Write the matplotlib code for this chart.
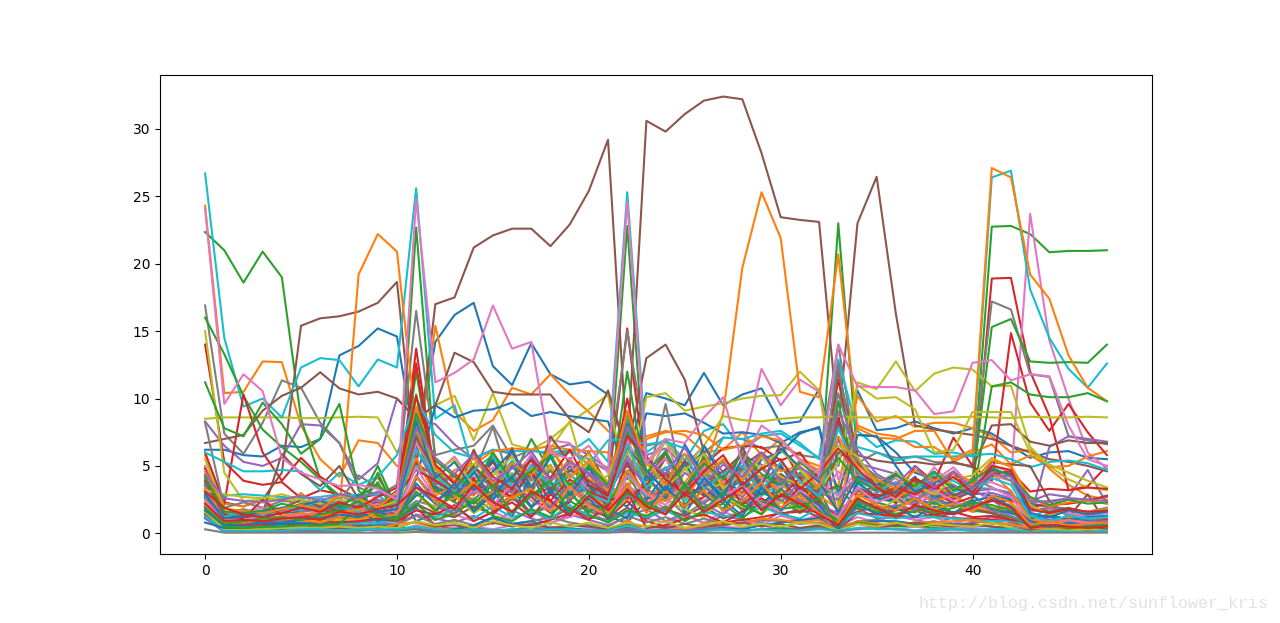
#!/usr/bin/python3
import numpy as np
import matplotlib
matplotlib.use('Agg')
import matplotlib.pyplot as plt

# values, x = 0..47, one list per line colour
blue = [
    [6.2,6.2,5.8,5.7,6.5,6.4,7,13.2,13.9,15.2,14.6, 6,14.2,16.2,17.1,12.4,11,14.1,11.8,11.05,11.25,10.3, 6,10.4,10,9.5,11.9,9.5,10.3,10.75,8.1,8.3,10.7, 5,10.6,7.65,7.8,8.3,7.8,7.4,7.8,7.4,6.5,5.6,6,6.1,5.6,5.5],
    [3.5,1.5,1.2,1.3,1.5,1.6,1.8,2.2,2,2.5,1.5, 4,9.5,8.6,9.1,9.2,9.7,8.7,9,8.7,8.5,8.3, 4,8.9,8.7,8.9,8.2,7.4,7.5,7.3,6.7,7.5,7.8, 3,7.3,7.2,6,4.5,4,3.5,3,2.8,2.5,2.2,2,1.8,1.6,1.5],
    [3,0.8,0.8,0.9,1,1,1.2,1.1,1.3,1.5,1, 2,4,3,3.5,5.5,3,5.8,3,5,3.5,2.5, 2,4,6,3,6.5,4,3,5.5,6,7.4,7.9, 1,7.3,7.2,5,3,2.5,2,2.2,1.8,1.5,1.2,1,1.1,0.9,0.8],
    [2,0.5,0.5,0.6,0.7,0.7,0.8,1,0.9,2,3.2, 0.9,1.5,3.5,1.8,3.2,1.2,4.5,1.5,2.5,3.6,1.2, 0.8,2.5,4.4,1.5,3.5,2.2,4.7,1.8,4,2.5,3.2, 0.5,2.8,2.6,2.4,2.5,2.2,2.3,2,1.6,1.6,0.7,1.3,0.7,0.9,0.8],
    [1.2,0.2,0.2,0.2,0.3,0.3,0.3,0.4,0.5,0.6,0.5, 0.3,0.1,0.3,0.6,1.2,0.7,0.9,0.4,0.4,0.2,0.2, 0.2,0.1,0.2,0.2,0.3,0.4,0.3,0.6,0.8,1,1.1, 0.3,0.8,0.9,0.9,0.7,0.6,0.7,0.6,0.5,0.3,0.2,0.2,0.3,0.3,0.3],
    [0.8,0.4,0.4,0.5,0.7,0.8,0.6,1.3,1.6,0.9,1.3, 2.8,3.4,2.6,4.6,2.4,5,3.1,1.9,3.7,2.2,1.8, 1.1,4.3,2.6,5.2,2.9,1.8,3.8,2.9,5,3.2,1.6, 0.7,3.8,2.7,3.1,4.2,2.6,3.4,2.8,1.8,1.5,1.1,1.4,1,1.2,1.3],
    [2.9,1.1,1.3,1.6,1.9,2.1,2.4,1.9,2.9,1.6,1.8, 8.3,4.1,5.3,3.2,4.6,6.1,3.4,5.7,2.8,4.8,3.3, 8.1,4.7,3.1,6.6,4.2,2.7,5.6,3.6,6.3,4.9,3.8, 1.6,4.2,3.6,4.4,3.1,3.7,4.6,3.3,4.8,4.3,1.5,1.2,1.7,1.4,1.6],
    [1.7,0.6,0.7,0.8,0.8,1,1.2,1.4,1.2,1.7,0.9, 3.7,2.2,3.7,1.6,2.9,4.2,1.9,3.2,1.4,2.6,1.1, 3.3,1.6,3.5,1.9,4.1,2.5,1.3,3.4,1.7,3,2.1, 0.4,2.2,1.4,1.9,1.2,2,1.5,2.4,2.7,2,0.9,0.5,0.8,0.6,0.6],
]
orange = [
    [24.3,10.4,10.5,12.75,12.7,8,5.5,4.2,6.9,6.7,5, 5,15.4,9,7.6,8.4,10.8,10.3,11.8,10.3,9,7.6, 6.5,7.2,7.6,7.3,6,6.2,7.5,5.8,7,5.5,5, 3.5,10.2,8.3,8.7,7.9,8.2,8.2,7.8,7.2,6,6.2,4.8,3.6,2.8,2.5],
    [5.8,2.2,2,2.5,1.6,3,1.8,1.6,19.2,22.2,20.9, 8,4,3,2.8,6,4,5.8,3.9,5.5,4,3.4, 3,2.5,3.8,2.6,4.5,8.9,19.7,25.3,21.9,10.5,10.1, 20.7,7.8,7.1,7,7.6,7.6,5.3,6,6.6,5.1,5.8,4.9,5,5.7,6.1],
    [4,1.5,1.2,1,0.9,1,1.2,1.3,1.2,1.2,2, 8,3,4.7,5.1,6.1,6.3,6.2,6.5,6.2,6.1,6, 3,7,7.5,7.6,7.3,6.2,6.5,7.2,6.9,5.4,4.7, 1.5,8,7.4,7.2,6.4,6.4,5.5,6.2,27.1,26.4,19.2,17.4,13.2,10.8,9.8],
    [2.4,0.6,0.6,0.7,0.8,0.7,0.8,1.1,0.9,1,1.2, 3,1.6,1.3,3.2,2.1,3.6,4.8,2.1,2.8,4.3,3, 2.8,1.9,4.2,5.2,3.1,1.7,3.4,4.9,3.7,2.5,2.8, 1.8,2.6,3.4,3.2,3,2.4,2.8,2,1.6,1.9,1.1,0.9,1.2,1.4,1.6],
    [1.5,0.2,0.3,0.3,0.3,0.4,0.4,0.5,0.4,0.3,0.7, 0.8,0.4,0.2,0.2,0.2,0.2,0.2,0.2,0.2,0.1,0.1, 1,0.1,0.3,0.3,0.7,0.8,0.7,1.1,1,0.8,1, 0.2,0.9,0.7,0.6,0.8,0.8,0.9,1,0.7,0.7,0.4,0.3,0.4,0.4,0.5],
    [3.3,1,0.9,1,1.1,1,0.8,1.2,1.1,1.4,2.3, 5.6,2.8,3.5,2.2,3.1,2.6,3.4,5.1,2.7,3.2,1.6, 4.7,3,2.4,3.8,5.4,3.6,2.9,4.3,3,2.3,3.6, 1.6,4.4,3.5,2.6,3.4,2.9,3.3,3.5,4.5,3.1,1,0.8,1,0.8,0.9],
    [4.6,1.8,1.7,1.5,1.8,2.1,1.7,2.9,2.6,1.9,3.1, 9.4,4.8,3.9,5.6,3.7,5.2,4.3,6.3,4.1,5.4,3.2, 9.1,5.2,3.6,5.9,4.3,5.5,3.9,5.8,4.6,5,3.4, 7.2,5,4,3.3,4.7,3.9,4.5,3.8,5.4,5,2.6,2,2.3,2.4,2.2],
    [2,0.8,0.8,1,1.3,1.5,1.3,1.5,1.8,1.2,1.4, 4.2,2.3,2.6,3.8,1.8,2.7,3.3,1.6,3.5,2.1,1.4, 3.6,1.5,3.1,2,3.2,1.7,2.4,3.8,1.9,2.9,1.5, 0.8,2.9,2.1,1.7,2.6,1.8,2.2,1.6,2.8,2.3,0.6,0.9,0.6,0.7,0.8],
]
green = [
    [22.35,21,18.6,20.9,19,8.5,4,2.5,1.6,1.8,1.2, 22.7,5,3,2.5,3.8,2.5,4.8,3.2,5.6,3.3,2.8, 22.8,3,6,3.5,4.5,3,4.8,3.1,3.8,3.3,2.6, 23,5.5,4,3,3,3.6,2.6,3.8,22.75,22.8,22.2,20.85,20.95,20.95,21],
    [16,13.3,10.2,7.7,6.4,5.3,4,2.8,2.3,5,1.8, 12,3.5,2.8,3.3,5.8,4,7,4.6,3.5,3.2,2, 12,3.8,4.8,2.7,5.8,3.1,3.9,2.2,3.4,4.5,2.9, 12.5,4,3.2,2.7,3.5,2.2,3.1,3.8,15.3,15.9,12.75,12.65,12.7,12.65,14],
    [11.2,7.8,7.2,9.7,8.1,5.9,7,9.6,3.2,1.5,1, 10.3,2.4,1.7,4.6,2.6,3.3,1.4,2.2,2.9,1.8,1.4, 9,2.8,6,2.1,3.7,1.6,2.5,3.3,3.9,2.3,1.7, 9.8,3.2,2.6,2.3,3.2,2.8,1.9,2.5,10.9,11.2,10.3,10.1,10.1,10.4,9.8],
    [3.5,0.8,0.8,0.9,1,1.1,1,1,1.3,4.5,1.4, 7.3,3.2,2.3,1.8,2.9,3.6,1.9,4.8,2.4,1.6,2.2, 4.4,2.1,2.9,3.4,1.5,2.7,1.8,3,2.5,1.5,2.8, 3.5,1.8,2.3,1.9,2.7,1.6,2.2,1.7,1.5,1.2,0.9,0.8,0.7,0.7,0.7],
    [1.3,0.1,0.1,0.2,0.2,0.2,0.1,0.2,0.2,0.3,0.2, 0.3,0.2,0.3,0.2,0.2,0.2,0.2,0.3,0.2,0.2,0.2, 0.4,0.2,0.1,0.2,0.2,0.3,0.2,0.3,0.4,0.3,0.5, 0.1,0.8,0.6,0.5,0.6,0.4,0.3,0.2,0.2,0.2,0.1,0.1,0.1,0.2,0.2],
    [2.6,0.5,0.4,0.5,0.5,0.6,0.6,0.7,2,3.8,1.1, 2.2,1,1.5,2.4,1.3,0.9,1.8,1.2,3.1,1.4,0.8, 1.7,1.3,2,0.9,1.7,2.2,1.1,2.4,1.8,2,2.2, 0.9,2,1.6,1.4,1.6,2.3,1.5,2.1,1.9,1.2,0.6,0.5,0.6,0.7,0.8],
    [4.2,1.6,1.5,1.7,2.2,1.9,1.6,2.1,2.7,3.6,2.4, 8.9,5.4,4.2,3.4,6,3.8,4.6,5.8,3.5,5,3.6, 7.6,4.5,6.1,3.5,5.2,4,5.9,4.4,3.6,5.3,4.1, 5.6,3.9,3.2,4.3,3.5,4.6,3.2,3.9,4.9,4.2,2.7,2.1,2.5,2.2,2.3],
    [1.9,0.7,0.9,1.1,1.2,1,1.4,1.7,2.4,1.3,1, 3.1,1.7,3,2.2,3.6,1.5,2.8,3.9,1.6,3.1,1.2, 3,2.3,1.4,3.7,1.8,3,2.1,1.4,3.3,1.9,2.6, 0.5,2.4,1.8,1.4,2,1.5,1.9,2.3,2.1,1.7,0.5,0.6,0.4,0.5,0.6],
]
red = [
    [14,5.3,3.9,3.6,3.8,2.6,3.2,2.9,2.7,4.2,1.9, 13.7,4,3.4,3.9,2.8,6.3,2.8,3.4,4.6,6,3.5, 15.2,4,2.9,3.6,2.8,3.1,6.2,3.6,6.7,4,2.9, 11.4,4.4,3.7,3,3.9,3.1,4.5,2.9,18.9,18.95,12,8.7,3.2,3.5,5],
    [6,2.2,10.3,6,3.9,5.6,4.2,3.3,2.6,2.9,2.7, 12.6,3.6,4.4,3.5,5.3,3,4.1,5.8,3.3,4.9,2.7, 10,3.2,5.6,3.1,5.1,6.3,6.5,6.4,5.4,6,4, 8.7,2.7,3.7,2.6,5,3.8,7.1,5,3.9,14.85,9.7,7.6,9.6,7.5,5.8],
    [3.8,1.2,1.2,1.1,1.2,1.3,1.5,1.4,1.7,2.3,1.2, 5.5,3.2,2.4,4.1,1.9,3.4,2.7,1.5,2.3,5,1.7, 5.3,2.5,3.3,2,2.7,3.9,2.3,3,4.2,1.9,3.1, 3.5,2.8,2.9,2.4,2.1,2.9,2.3,1.9,2.4,2.4,2,2.1,2.2,2.4,2.8],
    [1.6,0.3,0.3,0.3,0.3,0.3,0.4,0.5,0.5,0.4,0.6, 1.9,0.6,0.3,0.5,0.8,0.7,0.6,1,1.5,2.1,1.1, 2.4,0.9,0.5,0.4,0.5,0.8,1,1.2,1.5,1.6,1.7, 0.3,1.5,1.4,1.3,1.2,1.4,1.1,1.1,1,0.9,0.2,0.2,0.2,0.3,0.4],
    [2.7,0.6,0.6,0.7,0.7,0.7,0.8,0.8,0.9,1.1,0.9, 1.7,1.4,2.1,0.9,1.6,2.3,1.2,2.9,1.8,1,2.1, 3.1,0.4,0.6,1.1,1.4,0.8,1.6,2.6,1.8,3.5,2.2, 0.8,2.1,1.5,1.7,1.9,1.4,1.6,1.2,1.3,1,0.8,0.6,0.9,0.8,1],
    [4.8,1.4,1.1,2.5,1.3,1.1,1.5,1.7,1.6,1.9,2.8, 4.7,3.9,3,4.9,3.5,2.7,4.6,2.4,4,3.1,2.5, 2.6,3.6,4.5,2.8,3.5,4.3,2.1,3.2,2.7,4.1,2.4, 1.2,3.4,2.7,3.4,2.9,3.6,2.2,2.7,4.4,4.6,3.1,3.3,3.2,3.4,3.3],
    [3.1,1.9,1.4,1.2,1.5,1.9,1.6,2.3,1.9,2.7,3.4, 10.2,5.1,3.7,6,4.2,3.3,5.5,4.1,6.2,3.6,2.8, 7.2,5.7,4,2.9,4.6,5.8,3.6,4.8,5.5,3.3,4.5, 6.3,4.8,3.4,2.7,4.1,3.3,4.2,3,5,4.7,1.8,1.5,1.8,1.6,1.7],
    [2.2,0.9,1,0.9,1.1,1.2,1,1.6,1.4,1.8,2.1, 3.4,2.7,1.8,3.6,2.3,1.6,3.1,2.4,1.3,2.8,1.7, 3.2,2,1.4,3,1.6,2.5,3.4,1.7,2.9,2.2,1.4, 0.6,2.6,1.9,1.2,2.1,1.7,1.4,1.9,2.5,1.9,0.4,0.6,0.5,0.4,0.5],
]
purple = [
    [8.3,6.5,5.3,5,5.6,8.1,8,6.7,4,5.2,10, 8.5,8.1,6.6,5.5,6.2,5.9,4.2,6.2,6.6,5.8,4.8, 7.5,5.8,6.3,5,6.5,4.5,5.8,5.1,3.2,5.2,4.6, 8.5,5.2,4.8,4.4,3.3,3.1,3.5,2.9,3,2.6,2.4,2.9,2.7,4.7,2.2],
    [2.8,0.9,0.8,0.8,0.9,1,1.2,1.8,1.1,1,0.9, 4.3,2.5,3.2,1.7,2.8,3.9,2,3.1,2.5,3.5,1.9, 3.7,2,3.9,3,2.2,3.5,2.7,4.1,3,1.8,2.4, 7,3.4,2.3,3.1,2.2,3.5,2.6,3.2,2.5,1.5,1.1,6.4,7.2,7,6.8],
    [1.9,0.4,0.4,0.4,0.5,0.6,0.5,0.7,0.6,0.7,0.7, 1.4,1.1,0.8,1.3,0.7,1.7,1.1,0.7,1.4,1,0.6, 1.2,1.8,0.9,1.5,0.7,1.3,1,0.8,1.6,0.9,1.2, 0.6,1.9,1.1,1.3,1,0.7,1.2,0.9,1.2,0.8,0.5,0.6,0.5,0.5,0.6],
    [4.1,1.2,1,1,1.1,1.2,1.4,2,1.7,2.5,2.1, 6.3,3.6,4.2,2.9,3.8,3,5.1,3.7,2.5,4.4,2.9, 5.5,3.3,2.4,4.5,3.4,2.7,4.7,3.5,2.3,3.8,3, 2.5,4.3,3,3.8,2.5,3.3,2.9,3.1,3.3,3,1.3,1,0.8,1.1,1.2],
    [1.1,0.1,0.1,0.2,0.1,0.2,0.2,0.2,0.3,0.2,0.3, 0.4,0.2,0.1,0.4,0.2,0.3,0.4,0.3,0.2,0.2,0.2, 0.3,0.2,0.3,0.2,0.4,0.3,0.2,0.3,0.2,0.3,0.4, 0.2,0.3,0.4,0.3,0.2,0.2,0.3,0.3,0.2,0.2,0.1,0.1,0.2,0.2,0.2],
    [3.1,0.7,0.7,0.8,1,1.6,1.8,2.8,2.3,1.5,1.7, 3.4,2.2,1.5,3.3,2.4,1.6,2.9,2,3.6,2.2,1.3, 2.8,2.4,1.6,3,2.2,1.4,2.6,1.9,3.3,2.4,2.1, 1.5,2.5,1.8,2.1,1.7,2.6,1.9,2.4,1.7,1.3,0.7,0.9,0.7,0.8,0.9],
    [4.4,2.6,2.4,2.3,2.5,2.8,2.4,2.9,2.6,3.1,2.6, 7.8,5.6,4.4,5.9,3.9,4.8,6.1,3.9,5.3,4.5,3.4, 7.9,5.4,4.4,6.4,3.7,5.1,4.2,6,3.8,4.9,4, 9,6.2,4.4,3.6,5,3.4,4.6,3.3,4.4,4.2,2.4,2.3,2.6,2.5,2.4],
]
brown = [
    [4.9,2.3,2,2.5,4.5,15.4,15.95,16.1,16.45,17.1,18.65, 5,17,17.5,21.2,22.1,22.6,22.6,21.3,22.9,25.4,29.2, 6,30.6,29.8,31.1,32.1,32.4,32.2,28.2,23.45,23.25,23.1, 8,23,26.45,16.3,8,7.7,7.5,7.3,7,6.5,6,5.5,5.3,5,4.6],
    [6.7,7,7.3,9.1,10.2,10.8,11.95,10.75,10.3,10.5,10, 8.5,9.5,13.4,12.7,10.5,10.3,10.3,10.3,8.5,7.5,10.6, 6,13,14,11.4,6,3.5,5,6,4.8,4.2,3.5, 12,5.8,5.4,5.2,5.3,5.1,5.3,4.9,8,8.1,6.8,6.5,6.9,6.7,6.7],
    [3.3,1.6,1.4,1.5,5.9,4.4,3.5,5,2.5,2.2,1.4, 5.2,4.2,2.5,6.2,3.1,6.3,2.9,7.2,5.2,3,3.8, 5,3.7,6.1,3.2,5.6,2.9,6.4,3.7,5.1,2.8,2.1, 6,5.2,3.8,2.2,4,3.5,2.5,3.1,5.3,5.1,5,2.4,1.2,2.9,0.7],
    [2,0.5,0.5,0.6,0.6,0.7,0.7,0.9,0.8,1,0.9, 2.2,1.5,1.2,2,1.4,2.6,1.6,1.1,1.9,1.2,1, 1.9,1.1,1.8,1.3,2,1.1,1.6,2.2,1.4,1.8,1.2, 1,1.6,2,1.4,1.7,1.2,1.5,1.8,1.5,1,0.7,0.4,0.3,0.3,0.3],
    [1.4,0.2,0.2,0.3,0.3,0.3,0.3,0.4,0.4,0.5,0.4, 0.9,0.5,0.6,0.4,0.8,0.5,0.7,0.4,0.6,0.5,0.3, 0.7,0.5,0.4,0.7,0.5,0.6,0.8,0.5,0.7,0.4,0.6, 0.2,0.7,0.5,0.6,0.8,0.6,0.5,0.7,0.5,0.4,0.2,0.2,0.3,0.2,0.3],
    [3.9,1.3,1.2,1.6,1.8,2.5,2,1.7,2.4,1.5,2.2, 7.1,4.5,3.3,5,3.6,4.2,5.4,3.2,4.7,3.9,2.9, 6.4,4.6,3.2,5.4,3.8,4.6,5.9,3.2,4.4,3.4,3.1, 8.2,4.5,3.8,2.9,3.7,4.2,2.8,3.4,4.7,4.4,2,1.6,1.9,1.5,1.7],
]
pink = [
    [5,1.5,1.3,1.5,1.7,1.8,2,2.1,1.9,2.2,2.6, 9,3.5,2.8,4.2,3.6,5.3,2.7,6.9,6.7,4.3,3, 5.3,4,6.9,3.2,5.4,4.2,6,12.2,9.5,11.4,10.5, 4,5.4,3.2,4.6,3.1,4.9,3.5,2.9,4.3,3.9,23.7,14.3,10,6,4.8],
    [3.6,0.9,0.9,0.7,0.8,0.8,0.8,2.6,1.2,3,1.1, 3.4,2.4,3.1,1.9,2.8,3.4,2,2.9,3.8,2.5,1.9, 3.5,2.8,1.8,3.3,2.4,3.6,1.6,2.8,4.4,3,2.5, 4.6,3.1,2.2,3.5,2.3,3.4,2.1,3.6,3.8,3.2,0.9,1.2,1,1,1.3],
    [2.2,0.4,0.4,0.5,0.5,0.6,0.6,0.7,1,0.6,0.6, 1.3,1,1.4,0.9,1.6,1,1.8,0.8,1.2,1.7,0.8, 1.6,1.1,0.8,1.3,0.8,1.6,1.1,0.6,1.3,0.9,1.4, 0.5,1.2,0.8,1.5,1,1.2,0.7,1.1,0.9,1.2,0.4,0.3,0.5,0.4,0.4],
    [1.2,0.1,0.1,0.2,0.2,0.2,0.3,0.2,0.3,0.2,0.2, 0.6,0.3,0.4,0.5,0.3,0.6,0.4,0.5,0.3,0.4,0.3, 0.5,0.3,0.6,0.4,0.3,0.5,0.4,0.6,0.3,0.4,0.5, 0.1,0.4,0.5,0.3,0.5,0.3,0.5,0.4,0.3,0.4,0.2,0.2,0.2,0.1,0.1],
    [3.4,1.4,1.6,1.9,1.6,1.9,2.7,1.8,2.2,1.6,1.9, 6.8,4.4,5.7,3.6,4.9,3.4,5.9,3.8,5.2,3.1,2.4, 6.9,4.2,5.6,2.9,4.9,3.8,5.3,4.1,3.3,5.5,3.7, 2.8,4.7,3.3,4.1,2.7,3.9,4.9,3.4,5.1,4.5,1.6,1.8,1.5,1.3,1.5],
    [2.5,0.8,1,1.3,1.1,1.4,1.6,1.3,1.7,2.2,1.5, 4.9,2.6,1.9,3.3,2,3.7,2.4,1.7,3.4,2,1.3, 4.3,2.9,2.1,3.8,1.7,2.8,3.5,2.2,1.6,3.2,1.9, 1.2,3.4,2.3,2.8,1.9,3.2,2.4,1.8,3.4,2.7,0.8,0.7,0.9,0.8,0.7],
    [24.1,9.6,11.8,10.55,5.6,4.5,4,3.5,3.6,3.3,2.5, 24.8,11.2,11.9,12.9,16.9,13.7,14.2,6,5.5,6.5,4.5, 24.6,5.2,7,6.7,8.6,10.1,5.2,8,7,5.4,4.4, 14,10.9,10.85,10.85,10.6,8.85,9.05,12.65,12.85,11.35,11.8,11.65,8,5.5,5],
]
gray = [
    [16.9,7.4,5.9,8.2,11.35,10.8,8.2,6.7,3.4,2.8,3.6, 16.5,5.8,6.2,6.5,8,5.6,6.2,5.8,6.1,5.5,4.6, 15,6.5,6.8,5,6,7.1,7,6.3,6.5,5.8,5.6, 14,5.2,6,5.6,5.7,5.3,5.2,5,17.2,16.6,11.8,11.6,7.2,6.9,6.6],
    [8.2,1.9,2.3,1.9,2.4,2.3,2.1,2.4,4.3,3.4,2.5, 7.7,4.1,3.3,4.4,7.9,3.1,4.8,2.9,4.3,3.4,2.7, 5.8,3.5,9.6,2.9,4.8,3.1,5.4,2.8,4.4,3.3,3, 12.6,4.1,3.4,2.9,2.8,4.5,3.2,4.1,3.4,2.8,2.3,2.4,2.6,2.5,2.7],
    [4.3,1,0.9,1,1.2,1.3,1.1,1.3,1.4,1.6,1.3, 2.4,2,1.4,2.6,1.7,2.9,1.3,2.1,3,1.6,1.3, 2.9,1.7,2.7,1.4,2.3,3,2.5,1.4,2.8,1.7,2, 1.2,2.3,1.8,2,2.4,1.9,2.2,1.6,1.8,1.9,1.2,0.9,1.2,1,1.1],
    [1.8,0.4,0.3,0.4,0.5,0.4,0.5,0.6,0.7,0.5,0.7, 1.3,0.7,1,0.6,1.1,0.7,0.9,1.2,0.8,0.6,0.5, 1.3,0.8,1.2,0.7,1.1,0.7,0.8,1,0.9,0.7,0.8, 0.4,0.9,1,0.8,0.7,0.9,0.6,0.8,0.9,0.6,0.3,0.4,0.3,0.4,0.4],
    [3.7,1.5,1.8,1.4,1.7,2.2,1.9,2.3,1.8,2.1,2.8, 8.7,5,3.6,4.6,3.3,5.2,3.9,4.7,3,5.1,3.6, 8.4,3.9,4.9,3.1,4.4,5.3,3.4,4.8,3.6,4.4,3.2, 10.4,5.4,4.2,3.5,3.1,4,3.6,2.8,4.6,3.9,1.7,1.9,1.8,1.6,1.9],
    [0.3,0.05,0.05,0.05,0.05,0.05,0.05,0.05,0.05,0.05,0.05, 0.1,0.05,0.05,0.05,0.05,0.05,0.05,0.05,0.05,0.05,0.05, 0.1,0.05,0.05,0.05,0.05,0.05,0.05,0.05,0.05,0.05,0.05, 0.05,0.05,0.05,0.05,0.05,0.05,0.05,0.05,0.05,0.05,0.05,0.05,0.05,0.05,0.05],
]
olive = [
    [8.5,8.6,8.6,8.6,8.6,8.55,8.55,8.6,8.65,8.6,6, 8.4,9.5,10.2,6.9,10.4,6.6,6.2,7,8.2,9.2,10.3, 3,10.1,10.4,9.1,9.4,9.65,10,10.2,10.25,12,10.6, 2,11.2,10.7,12.75,10.55,11.85,12.3,12.15,10.9,10.95,6.4,5,4,3.4,3.2],
    [15,4.5,2.4,2.5,2.6,2.3,2.2,2.5,2.3,2.4,2.2, 8.5,4.8,3,6.2,3.4,4.5,2.8,6.3,8.3,3.4,4.3, 8,5,6.8,4.8,6.5,8.7,8.4,8.3,8.5,8.6,8.6, 8.7,8.6,8.6,8.6,8.65,8.6,8.6,8.65,8.6,8.55,8.65,8.6,8.6,8.65,8.6],
    [5.5,1.8,1.6,1.5,1.6,1.8,1.7,1.5,1.4,1.5,1.8, 6.7,4.1,3.4,5.2,4.7,2.9,4.2,6.4,4.3,5.9,2.9, 6.2,3.8,3,4.8,3.2,3.7,5.4,4.9,6.2,4.7,3.3, 5.2,11,10,10.1,9.2,6,6.2,9,9,9,6,5.1,4.5,3.9,3.4],
    [2.7,0.7,0.7,0.8,0.8,0.8,0.9,1,1,1.2,1.2, 2.9,1.9,2.8,1.5,2.4,1.5,3.2,2.1,1.4,2.4,1.3, 2.6,1.7,2.5,1.8,1.2,2.7,2,1.5,2.3,1.8,2.6, 1,2.7,1.6,2.5,1.5,2.6,1.4,2,1.8,2.2,1.2,0.7,0.6,0.8,0.7],
    [1.6,0.3,0.3,0.3,0.4,0.4,0.4,0.5,0.4,0.5,0.4, 0.9,0.6,0.8,0.4,0.9,0.6,0.4,0.8,0.5,0.8,0.4, 0.8,0.5,0.9,0.4,0.6,0.9,0.5,0.7,0.5,0.8,0.7, 0.2,0.7,0.5,0.8,0.5,0.7,0.6,0.5,0.8,0.4,0.1,0.3,0.2,0.3,0.2],
    [3.2,2.9,2.7,2.6,2.9,2.5,2.2,2.8,2.5,1.9,2.4, 8.2,4.6,5.5,3.5,4.3,5.7,3.6,4.9,3.4,5.4,3.8, 7.7,5.5,3.4,4.7,5.9,3.3,4.5,5.6,4.2,3.6,4.8, 6.5,5.7,3.7,4.5,3.6,2.9,4,4.3,5.6,4.9,2.1,1.4,1.7,1.6,1.8],
]
cyan = [
    [26.7,14.5,9.4,10,8.6,12.3,13,12.85,10.9,12.9,12.3, 25.6,8.5,9.5,4.5,3.6,5.4,3.3,5.6,6,7,5.3, 25.3,6,7,5.4,7.6,8.1,6.2,7.2,7.4,6.5,5.6, 12.9,7.6,6.4,6.9,6.8,5.9,6,5.7,26.4,26.9,18.1,14.5,12.2,10.8,12.6],
    [6,5.3,4.6,4.6,4.7,4.6,3.2,4.5,3.6,4.2,5.8, 10,7.3,6,5.6,6.2,6.1,6.1,6,6.2,5.1,6.9, 7,6.6,6.8,6.3,4.6,7.1,7,7.4,7.6,6.7,5.5, 6,6.4,6,5.4,5.7,5.7,5.7,5.8,5.9,5.5,4.9,5.3,5.4,5.2,4.7],
    [3.5,2.8,2.9,2.8,2.7,2.6,2.7,2.9,2.8,2.9,1.6, 5,3.8,2.9,3.6,2.5,4.4,2.9,3.7,2.6,3.9,2.2, 4.6,2.7,3.5,2.4,3.8,3,4.2,2.8,3.7,2.4,3.1, 3,3.7,2.6,3.1,2.9,2.7,3.1,3.4,3.3,3,1.2,1.8,1.4,1.2,1.3],
    [2.1,0.5,0.5,0.5,0.6,0.6,0.6,0.7,0.8,0.8,0.9, 1.8,1.2,1.8,1.1,2,1.2,1.6,1.1,2.1,1.3,0.9, 1.5,1.2,1.7,1,1.6,1.3,1.2,2,1.4,1.1,1.9, 0.6,1.5,1.2,1.1,1.3,1.2,1.1,1,0.9,0.9,0.7,0.7,0.8,0.6,0.6],
    [1.3,0.15,0.15,0.2,0.2,0.3,0.3,0.2,0.3,0.3,0.3, 0.5,0.3,0.2,0.3,0.2,0.3,0.2,0.3,0.3,0.2,0.2, 0.6,0.2,0.2,0.1,0.2,0.3,0.2,0.3,0.2,0.2,0.3, 0.2,0.4,0.3,0.3,0.2,0.3,0.3,0.2,0.3,0.3,0.1,0.2,0.1,0.1,0.2],
    [2.8,1.2,1.6,1.4,1.9,1.7,2.6,1.9,1.6,1.8,2.2, 6.2,4.3,3.1,4.7,5.8,3.4,5,3.5,4.4,2.9,2.3, 6.6,3.4,4.8,5.9,3.3,4.4,5,3.1,5.3,3.9,2.7, 7.8,4.6,3.1,3.8,3.2,4.4,3.9,3.1,4.1,3.6,1.3,0.9,1.3,1.1,1.2],
]
watermark = 'http://blog.csdn.net/sunflower_kris'

groups = [blue, orange, green, red, purple, brown, pink, gray, olive, cyan]

fig = plt.figure(figsize=(12.8, 6.23), dpi=100)
ax = fig.add_subplot(111)
# same order the default colour cycle would give
for i in range(max(len(g) for g in groups)):
    for n, g in enumerate(groups):
        if i < len(g):
            assert len(g[i]) == 48, (n, i, len(g[i]))
            ax.plot(np.arange(48), g[i], color='C%d' % n)

fig.text(0.7175, 0.031, watermark, family='Liberation Mono', fontsize=12,
         color='#e2e2de', va='center')
plt.savefig('out.png', dpi=100)
plt.close()
